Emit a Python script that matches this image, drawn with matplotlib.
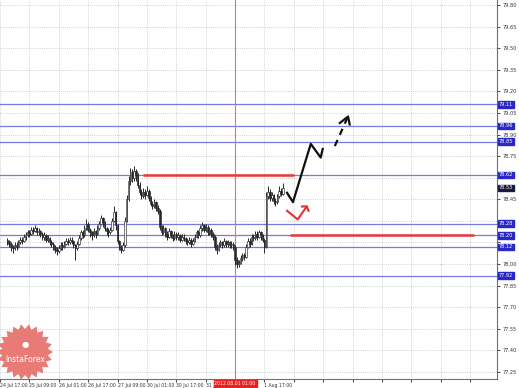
import numpy as np
import matplotlib
matplotlib.use("Agg")
import matplotlib.pyplot as plt
from matplotlib.patches import Polygon
from matplotlib.transforms import blended_transform_factory

# hourly candles (bar index 0..150)
closes = [78.16, 78.14, 78.12, 78.11, 78.13, 78.12, 78.15, 78.17, 78.16, 78.19,
          78.20, 78.22, 78.21, 78.24, 78.23, 78.25, 78.22, 78.23, 78.21, 78.19,
          78.20, 78.17, 78.18, 78.15, 78.14, 78.12, 78.10, 78.09, 78.11, 78.13,
          78.12, 78.14, 78.16, 78.15, 78.17, 78.16, 78.13, 78.11, 78.14, 78.18,
          78.22, 78.20, 78.25, 78.28, 78.24, 78.22, 78.20, 78.23, 78.21, 78.25,
          78.28, 78.32, 78.29, 78.25, 78.23, 78.22, 78.24, 78.30, 78.36, 78.27,
          78.16, 78.12, 78.10, 78.13, 78.30, 78.45, 78.58, 78.64, 78.60, 78.65,
          78.62, 78.55, 78.50, 78.47, 78.50, 78.48, 78.51, 78.46, 78.42, 78.40,
          78.43, 78.39, 78.37, 78.26, 78.22, 78.25, 78.21, 78.19, 78.23, 78.20,
          78.18, 78.21, 78.19, 78.20, 78.17, 78.19, 78.18, 78.16, 78.15, 78.17,
          78.14, 78.16, 78.19, 78.22, 78.20, 78.25, 78.27, 78.24, 78.26, 78.22,
          78.24, 78.21, 78.19, 78.12, 78.10, 78.13, 78.15, 78.13, 78.16, 78.14,
          78.15, 78.13, 78.14, 78.12, 78.03, 78.00, 78.01, 78.04, 78.06, 78.05,
          78.12, 78.16, 78.14, 78.19, 78.18, 78.21, 78.19, 78.22, 78.20, 78.17,
          78.12, 78.47, 78.50, 78.46, 78.48, 78.44, 78.43, 78.47, 78.51, 78.49,
          78.53]
highs = [78.18, 78.17, 78.15, 78.13, 78.15, 78.15, 78.17, 78.19, 78.19, 78.21,
         78.22, 78.24, 78.24, 78.26, 78.26, 78.27, 78.26, 78.25, 78.24, 78.22,
         78.22, 78.21, 78.20, 78.19, 78.17, 78.15, 78.13, 78.12, 78.13, 78.15,
         78.15, 78.16, 78.18, 78.18, 78.19, 78.19, 78.17, 78.14, 78.16, 78.20,
         78.24, 78.24, 78.27, 78.31, 78.29, 78.25, 78.23, 78.25, 78.24, 78.27,
         78.30, 78.34, 78.33, 78.30, 78.26, 78.25, 78.26, 78.32, 78.40, 78.37,
         78.28, 78.17, 78.13, 78.15, 78.33, 78.48, 78.61, 78.67, 78.66, 78.68,
         78.66, 78.63, 78.57, 78.52, 78.53, 78.52, 78.54, 78.52, 78.47, 78.44,
         78.45, 78.44, 78.41, 78.38, 78.27, 78.27, 78.26, 78.23, 78.25, 78.24,
         78.21, 78.23, 78.22, 78.22, 78.21, 78.21, 78.21, 78.19, 78.18, 78.19,
         78.18, 78.18, 78.21, 78.24, 78.24, 78.27, 78.29, 78.28, 78.28, 78.27,
         78.26, 78.25, 78.22, 78.20, 78.14, 78.15, 78.17, 78.16, 78.18, 78.17,
         78.17, 78.16, 78.16, 78.15, 78.13, 78.05, 78.03, 78.06, 78.08, 78.08,
         78.14, 78.18, 78.18, 78.21, 78.21, 78.23, 78.23, 78.24, 78.23, 78.21,
         78.18, 78.50, 78.54, 78.52, 78.50, 78.49, 78.46, 78.49, 78.54, 78.53,
         78.56]
lows = [78.13, 78.12, 78.09, 78.08, 78.10, 78.10, 78.11, 78.14, 78.14, 78.15,
        78.17, 78.19, 78.19, 78.20, 78.21, 78.22, 78.20, 78.20, 78.19, 78.17,
        78.17, 78.15, 78.15, 78.13, 78.12, 78.10, 78.08, 78.06, 78.08, 78.10,
        78.10, 78.11, 78.13, 78.13, 78.14, 78.14, 78.11, 78.03, 78.10, 78.13,
        78.17, 78.18, 78.19, 78.24, 78.22, 78.19, 78.17, 78.19, 78.18, 78.20,
        78.24, 78.27, 78.26, 78.23, 78.20, 78.19, 78.21, 78.23, 78.29, 78.24,
        78.14, 78.10, 78.08, 78.09, 78.12, 78.29, 78.44, 78.55, 78.57, 78.58,
        78.58, 78.53, 78.48, 78.45, 78.46, 78.45, 78.47, 78.44, 78.40, 78.38,
        78.39, 78.37, 78.35, 78.24, 78.20, 78.21, 78.19, 78.17, 78.18, 78.18,
        78.16, 78.17, 78.17, 78.17, 78.15, 78.16, 78.16, 78.14, 78.13, 78.14,
        78.12, 78.13, 78.15, 78.18, 78.18, 78.19, 78.23, 78.22, 78.22, 78.20,
        78.20, 78.19, 78.17, 78.10, 78.07, 78.09, 78.12, 78.11, 78.12, 78.12,
        78.12, 78.11, 78.11, 78.10, 77.99, 77.97, 77.98, 78.00, 78.02, 78.03,
        78.04, 78.11, 78.12, 78.13, 78.16, 78.17, 78.17, 78.18, 78.17, 78.15,
        78.08, 78.11, 78.45, 78.44, 78.44, 78.42, 78.40, 78.42, 78.46, 78.47,
        78.48]
first_open = 78.17

# levels drawn on the chart
blue_levels = [79.11, 78.96, 78.85, 78.62, 78.28, 78.20, 78.12, 77.92]
red_levels = [78.62, 78.20]
red_from = [74, 154]
red_to = [156, 254]
marker_bar = 124
marker_label = "2012.08.01 01:00"
last_price = 78.53

# forecast sketches
black_x = [152.3, 155.5, 165.2, 170.6, 171.7]
black_y = [78.495, 78.43, 78.835, 78.74, 78.80]
dash_x = [178.3, 185.1]
dash_y = [78.82, 79.015]
dash_head_x = [181.0, 185.5, 186.4]
dash_head_y = [78.98, 79.025, 78.97]
red_arrow_x = [152.3, 158.1, 163.0]
red_arrow_y = [78.37, 78.31, 78.40]
red_head_x = [160.4, 163.0, 164.0]
red_head_y = [78.40, 78.40, 78.37]

yticks = [77.25, 77.40, 77.55, 77.70, 77.85, 78.00, 78.15, 78.30, 78.45,
          78.60, 78.75, 78.90, 79.05, 79.20, 79.35, 79.50, 79.65, 79.80]
xtick_pos = [-4, 12, 28, 44, 60, 76, 92, 108, 124, 140, 156, 172, 188, 204,
             220, 236, 252]
xtick_lab = ["24 Jul 17:00", "25 Jul 09:00", "26 Jul 01:00", "26 Jul 17:00",
             "27 Jul 09:00", "30 Jul 01:00", "30 Jul 17:00", "31 Jul 09:00",
             "", "1 Aug 17:00", "", "", "", "", "", "", ""]

W, H = 519, 388
fig = plt.figure(figsize=(W / 100, H / 100), dpi=100)
ax = fig.add_axes([0, 9 / H, 497 / W, 379 / H])
ax.set_facecolor("white")

closes = np.array(closes)
highs = np.array(highs)
lows = np.array(lows)
opens = np.r_[first_open, closes[:-1]]
idx = np.arange(len(closes))

ax.vlines(idx, lows, highs, color="#282828", lw=0.7, zorder=3)
up = closes >= opens
ax.bar(idx[up], closes[up] - opens[up], bottom=opens[up], width=0.8,
       color="white", edgecolor="#282828", linewidth=0.45, zorder=4)
ax.bar(idx[~up], opens[~up] - closes[~up], bottom=closes[~up], width=0.8,
       color="#282828", edgecolor="#282828", linewidth=0.45, zorder=4)

for lv in blue_levels:
    ax.axhline(lv, color="#7878e0", lw=0.9, zorder=2)
for lv, a, b in zip(red_levels, red_from, red_to):
    ax.hlines(lv, a, b, color="#e83838", lw=1.8, zorder=5)
ax.axvline(marker_bar, color="#f07070", lw=0.8, zorder=2)

ax.plot(black_x, black_y, color="#101010", lw=1.6, zorder=6)
ax.plot(dash_x, dash_y, color="#101010", lw=1.6, ls=(0, (3, 2.5)), zorder=6)
ax.plot(dash_head_x, dash_head_y, color="#101010", lw=1.6, zorder=6)
ax.plot(red_arrow_x, red_arrow_y, color="#e83030", lw=1.5, zorder=6)
ax.plot(red_head_x, red_head_y, color="#e83030", lw=1.5, zorder=6)

ax.set_xlim(-0.6, 266.6)
ax.set_ylim(77.201, 79.835)
ax.set_yticks(yticks)
# scale labels that sit under a price box are hidden, as on the terminal
ylab = []
for v in yticks:
    near = min(abs(v - lv) for lv in blue_levels + [last_price])
    ylab.append("" if near < 0.045 else f"{v:.2f}")
ax.set_yticklabels(ylab)
ax.yaxis.tick_right()
ax.set_xticks(xtick_pos)
ax.set_xticklabels(xtick_lab)
for t in ax.get_xticklabels():
    t.set_horizontalalignment("left")
ax.tick_params(axis="y", labelsize=3.6, length=2, pad=2, colors="#505050",
               labelcolor="#303030")
ax.tick_params(axis="x", labelsize=3.3, length=2, pad=1, colors="#505050",
               labelcolor="#303030")
ax.grid(True, color="#c4c4c4", ls=(0, (1, 1.5)), lw=0.6, zorder=0)
for s in ["left", "top"]:
    ax.spines[s].set_visible(False)
for s in ["right", "bottom"]:
    ax.spines[s].set_color("#707070")
    ax.spines[s].set_linewidth(0.8)

# price boxes on the right scale
tr = blended_transform_factory(ax.transAxes, ax.transData)
for lv in blue_levels:
    ax.text(1.004, lv, f"{lv:.2f}", transform=tr, fontsize=3.6, color="white",
            va="center", ha="left", zorder=10, clip_on=False,
            bbox=dict(boxstyle="square,pad=0.15", fc="#2828c8", ec="#2828c8"))
ax.text(1.004, last_price, f"{last_price:.2f}", transform=tr, fontsize=3.6,
        color="white", va="center", ha="left", zorder=10, clip_on=False,
        bbox=dict(boxstyle="square,pad=0.15", fc="#1a1a3a", ec="#1a1a3a"))

# date box under the marker line
trx = blended_transform_factory(ax.transData, ax.transAxes)
ax.text(marker_bar, -0.0125, marker_label, transform=trx, fontsize=3.3,
        color="white", va="center", ha="center", zorder=10, clip_on=False,
        bbox=dict(boxstyle="square,pad=0.2", fc="#e82020", ec="#e82020"))

# InstaForex badge
cx, cy, n = 25, 352, 22
ang = np.linspace(0, 2 * np.pi, 2 * n, endpoint=False)
rad = np.where(np.arange(2 * n) % 2 == 0, 28, 23)
pts = np.column_stack([(cx + rad * np.cos(ang)) / W, 1 - (cy + rad * np.sin(ang)) / H])
fig.patches.append(Polygon(pts, closed=True, transform=fig.transFigure,
                           fc="#e8706a", ec="none", alpha=0.92, zorder=20))
fig.text(cx / W, 1 - 345 / H, "●", fontsize=6, color="white", ha="center",
         va="center", zorder=21)
fig.text(cx / W, 1 - 359 / H, "InstaForex", fontsize=5.5, color="white",
         ha="center", va="center", zorder=21)

fig.savefig("out.png", dpi=100)
